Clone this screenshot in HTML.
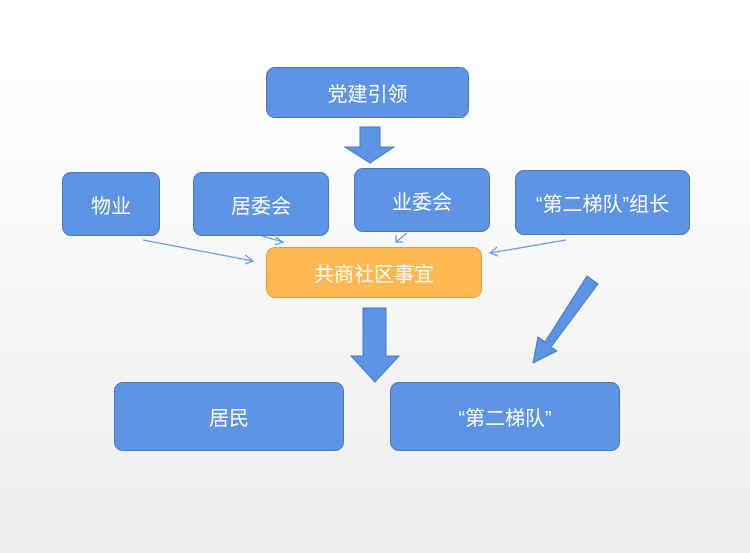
<!DOCTYPE html>
<html><head><meta charset="utf-8"><style>
body{margin:0;width:750px;height:553px;overflow:hidden;background:linear-gradient(#fff 0%,#fff 12%,#ededed 100%);font-family:"Liberation Sans","Noto Sans CJK SC",sans-serif;position:relative}
.b{position:absolute;background:#5d95e4;border:1.5px solid #4a78bf;border-radius:9px;color:#fff;font-size:20px;display:flex;align-items:center;justify-content:center;box-sizing:border-box}
svg{position:absolute;left:0;top:0}
</style></head><body>
<div class="b" style="left:266px;top:67px;width:203px;height:51px">党建引领</div>
<div class="b" style="left:62px;top:172px;width:98px;height:64px">物业</div>
<div class="b" style="left:193px;top:172px;width:136px;height:64px">居委会</div>
<div class="b" style="left:354px;top:168px;width:136px;height:64px">业委会</div>
<div class="b" style="left:515px;top:170px;width:175px;height:65px">“第二梯队”组长</div>
<div class="b" style="left:266px;top:247px;width:216px;height:51px;background:#ffb854;border-color:#e0a048">共商社区事宜</div>
<div class="b" style="left:114px;top:382px;width:230px;height:69px">居民</div>
<div class="b" style="left:390px;top:382px;width:230px;height:69px">“第二梯队”</div>
<svg width="750" height="553">
<g fill="#5d95e4" stroke="#4a78bf" stroke-width="1">
<polygon points="360,127 380,127 380,147 394,147 370,163 345,147 360,147"/>
<polygon points="363,308 386,308 386,356 399,356 375,382 351,356 363,356"/>
<polygon points="587,276 598,284 551,347 557,351 533,363 538,337 545,342"/>
</g>
<g stroke="#6a9ee8" stroke-width="1.3" fill="none">
<line x1="143" y1="240" x2="253" y2="261"/><polyline points="245,255 253,261 245,264"/>
<line x1="262" y1="236" x2="283" y2="242"/><polyline points="275,237 283,242 275,245"/>
<line x1="407" y1="233" x2="396" y2="242"/><polyline points="396,235 396,242 403,242"/>
<line x1="566" y1="240" x2="490" y2="253"/><polyline points="497,247 490,253 498,256"/>
</g>
</svg>
</body></html>
